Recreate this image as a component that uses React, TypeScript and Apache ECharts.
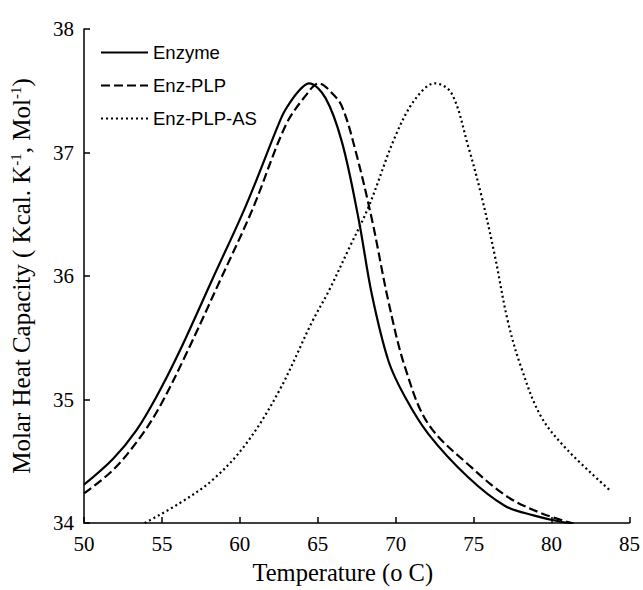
import React, { useEffect, useRef } from "react";
import * as echarts from "echarts";

const xTicks = [50, 55, 60, 65, 70, 75, 80, 85];
const yTicks = [34, 35, 36, 37, 38];

const enzymeX = [50, 51.87, 53.36, 54.64, 56.13, 58.26, 60.39, 62.52, 62.94, 63.79, 64.43, 65.5, 66.56, 67.62, 68.47, 69.54, 70.6, 72.1, 74.65, 76.99, 78.9, 80.6, 81.4];
const enzymeY = [34.31, 34.52, 34.75, 35.02, 35.39, 35.98, 36.57, 37.24, 37.35, 37.5, 37.56, 37.44, 37.08, 36.46, 35.85, 35.31, 35.02, 34.72, 34.37, 34.14, 34.06, 34.01, 34.0];

const plpX = [50, 51.87, 53.58, 54.85, 56.56, 58.68, 60.81, 62.94, 64.22, 65.07, 65.92, 66.56, 67.41, 68.47, 69.54, 70.6, 72.1, 74.86, 77.2, 79.33, 81.25];
const plpY = [34.24, 34.43, 34.69, 34.94, 35.37, 35.95, 36.54, 37.22, 37.46, 37.56, 37.48, 37.37, 37.02, 36.46, 35.79, 35.26, 34.8, 34.45, 34.21, 34.08, 34.0];

const asX = [53.9, 56.13, 58.26, 60.39, 62.52, 64.64, 65.71, 66.99, 68.26, 69.97, 71.24, 72.52, 73.58, 74.65, 75.5, 76.35, 77.2, 78.05, 79.33, 81.03, 83.7];
const asY = [34.0, 34.16, 34.35, 34.64, 35.07, 35.63, 35.88, 36.22, 36.56, 37.13, 37.43, 37.56, 37.48, 37.05, 36.65, 36.17, 35.63, 35.26, 34.86, 34.59, 34.27];

const names = ["Enzyme", "Enz-PLP", "Enz-PLP-AS"];

const zip = (xs: number[], ys: number[]) => xs.map((x, i) => [x, ys[i]]);

export default function App() {
  const ref = useRef<HTMLDivElement>(null);
  useEffect(() => {
    if (!ref.current) return;
    const chart = echarts.init(ref.current, null, { renderer: "svg" });
    const serif = "'Liberation Serif', 'Times New Roman', serif";
    const sans = "'Liberation Sans', Arial, sans-serif";
    const lineStyles = [
      { type: "solid" as const, width: 2.2 },
      { type: [9, 4] as any, width: 2.2 },
      { type: [2, 3] as any, width: 2.2 },
    ];
    const datas = [zip(enzymeX, enzymeY), zip(plpX, plpY), zip(asX, asY)];
    chart.setOption({
      animation: false,
      backgroundColor: "#ffffff",
      grid: { left: 84, right: 11, top: 29, bottom: 67, containLabel: false },
      legend: {
        left: 95,
        top: 38,
        orient: "vertical",
        itemWidth: 47,
        itemHeight: 14,
        itemGap: 14,
        data: names,
        itemStyle: { opacity: 0 },
        textStyle: { fontFamily: sans, fontSize: 18.5, color: "#000" },
      },
      xAxis: {
        type: "value",
        min: xTicks[0],
        max: xTicks[xTicks.length - 1],
        interval: 5,
        name: "Temperature (o C)",
        nameLocation: "middle",
        nameGap: 37,
        nameTextStyle: { fontFamily: serif, fontSize: 24.5, color: "#000", padding: [0, 28, 0, 0] },
        axisLine: { show: true, lineStyle: { color: "#000", width: 1.5 } },
        axisTick: { show: true, inside: true, length: 6, lineStyle: { color: "#000", width: 1.5 } },
        axisLabel: { fontFamily: serif, fontSize: 21, color: "#000", margin: 10 },
        splitLine: { show: false },
      },
      yAxis: {
        type: "value",
        min: yTicks[0],
        max: yTicks[yTicks.length - 1],
        interval: 1,
        name: "{n|Molar Heat Capacity ( Kcal. K}{s|-1}{n|, Mol}{s|-1}{n|)}",
        nameLocation: "middle",
        nameRotate: 90,
        nameGap: 49,
        nameTextStyle: {
          fontFamily: serif,
          fontSize: 25,
          color: "#000",
          rich: {
            n: { fontFamily: serif, fontSize: 25, color: "#000", lineHeight: 27 },
            s: { fontFamily: serif, fontSize: 15, color: "#000", verticalAlign: "top", lineHeight: 27, padding: [0, 0, 12, 0] },
          },
        },
        axisLine: { show: true, lineStyle: { color: "#000", width: 1.5 } },
        axisTick: { show: true, inside: true, length: 6, lineStyle: { color: "#000", width: 1.5 } },
        axisLabel: { fontFamily: serif, fontSize: 21, color: "#000", margin: 10 },
        splitLine: { show: false },
      },
      series: names.map((n, i) => ({
        name: n,
        type: "line",
        data: datas[i],
        smooth: 0.35,
        symbol: "none",
        color: "#000",
        lineStyle: { color: "#000", ...lineStyles[i] },
      })),
    });
    return () => chart.dispose();
  }, []);
  return <div ref={ref} style={{ width: 643, height: 590, position: "absolute", left: 0, top: 0 }} />;
}
